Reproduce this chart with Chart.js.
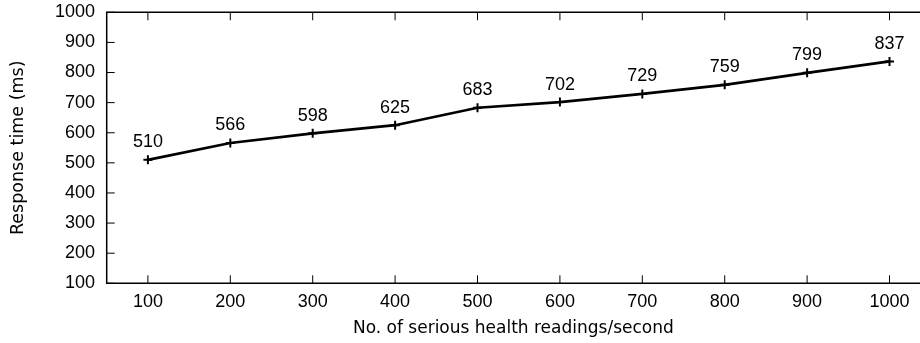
<!DOCTYPE html>
<html>
<head>
<meta charset="utf-8">
<script src="https://cdn.jsdelivr.net/npm/chart.js@4/dist/chart.umd.min.js"></script>
<style>
  html, body { margin: 0; padding: 0; background: #fff; overflow: hidden; }
  canvas { display: block; }
</style>
</head>
<body>
<canvas id="chart" width="920" height="343" style="width:920px;height:343px"></canvas>
<script>
// Serious health readings per second vs. measured response time
const readingsPerSecond = [100, 200, 300, 400, 500, 600, 700, 800, 900, 1000];
const responseTimeMs = [510, 566, 598, 625, 683, 702, 729, 759, 799, 837];
const xTickValues = [100, 200, 300, 400, 500, 600, 700, 800, 900, 1000];
const yTickValues = [100, 200, 300, 400, 500, 600, 700, 800, 900, 1000];

const tickFont = { family: '"Liberation Sans", Arial, sans-serif', size: 18 };
const xTitleFont = { family: '"DejaVu Sans", sans-serif', size: 17 };
const yTitleFont = { family: '"DejaVu Sans", sans-serif', size: 17.5 };

// Left, top and bottom border with inward tick marks
const framePlugin = {
  id: 'frame',
  beforeDatasetsDraw(chart) {
    const { ctx, chartArea: a, scales: { x, y } } = chart;
    ctx.save();
    ctx.strokeStyle = '#000';
    ctx.lineWidth = 1;
    ctx.beginPath();
    xTickValues.forEach(v => {
      const px = x.getPixelForValue(v);
      ctx.moveTo(px, a.bottom); ctx.lineTo(px, a.bottom - 8);
      ctx.moveTo(px, a.top); ctx.lineTo(px, a.top + 8);
    });
    yTickValues.forEach(v => {
      const py = y.getPixelForValue(v);
      ctx.moveTo(a.left, py); ctx.lineTo(a.left + 8, py);
    });
    ctx.stroke();
    ctx.lineWidth = 1.5;
    ctx.beginPath();
    ctx.moveTo(chart.width + 2, a.top);
    ctx.lineTo(a.left, a.top);
    ctx.lineTo(a.left, a.bottom);
    ctx.lineTo(chart.width + 2, a.bottom);
    ctx.stroke();
    ctx.restore();
  }
};

// Value printed above each point
const valueLabelPlugin = {
  id: 'valueLabels',
  afterDatasetsDraw(chart) {
    const { ctx, scales: { x, y } } = chart;
    ctx.save();
    ctx.fillStyle = '#000';
    ctx.font = `${tickFont.size}px ${tickFont.family}`;
    ctx.textAlign = 'center';
    ctx.textBaseline = 'alphabetic';
    readingsPerSecond.forEach((r, i) => {
      const v = responseTimeMs[i];
      ctx.fillText(String(v), x.getPixelForValue(r), y.getPixelForValue(v) - 12.5);
    });
    ctx.restore();
  }
};

new Chart(document.getElementById('chart'), {
  type: 'line',
  data: {
    datasets: [{
      data: readingsPerSecond.map((r, i) => ({ x: r, y: responseTimeMs[i] })),
      borderColor: '#000',
      backgroundColor: '#000',
      borderWidth: 2.7,
      tension: 0,
      pointStyle: 'cross',
      pointRadius: 4.5,
      pointBorderWidth: 2,
      pointBorderColor: '#000',
      fill: false,
      clip: false
    }]
  },
  options: {
    responsive: false,
    maintainAspectRatio: false,
    animation: false,
    devicePixelRatio: 1,
    layout: { autoPadding: false, padding: { top: 12.3, right: 0, left: 0, bottom: 0 } },
    plugins: { legend: { display: false }, tooltip: { enabled: false } },
    scales: {
      x: {
        type: 'linear',
        min: 50,
        max: 1037,
        afterBuildTicks: s => { s.ticks = xTickValues.map(v => ({ value: v })); },
        afterFit: s => { s.height = 59.7; s.paddingLeft = 0; s.paddingRight = 0; },
        grid: { display: false, drawTicks: false },
        border: { display: false },
        ticks: { color: '#000', font: tickFont, padding: 8.4, maxRotation: 0, autoSkip: false, callback: v => String(v) },
        title: {
          display: true,
          text: 'No. of serious health readings/second',
          color: '#000',
          font: xTitleFont,
          padding: { top: 0, bottom: 4.4 }
        }
      },
      y: {
        type: 'linear',
        min: 100,
        max: 1000,
        afterBuildTicks: s => { s.ticks = yTickValues.map(v => ({ value: v })); },
        afterFit: s => { s.width = 106.7; s.paddingTop = 0; s.paddingBottom = 0; },
        grid: { display: false, drawTicks: false },
        border: { display: false },
        ticks: { color: '#000', font: tickFont, padding: 11.7, autoSkip: false, callback: v => String(v) },
        title: {
          display: true,
          text: 'Response time (ms)',
          color: '#000',
          font: yTitleFont,
          padding: { top: 8.3, bottom: 0 }
        }
      }
    }
  },
  plugins: [framePlugin, valueLabelPlugin]
});
</script>
</body>
</html>
